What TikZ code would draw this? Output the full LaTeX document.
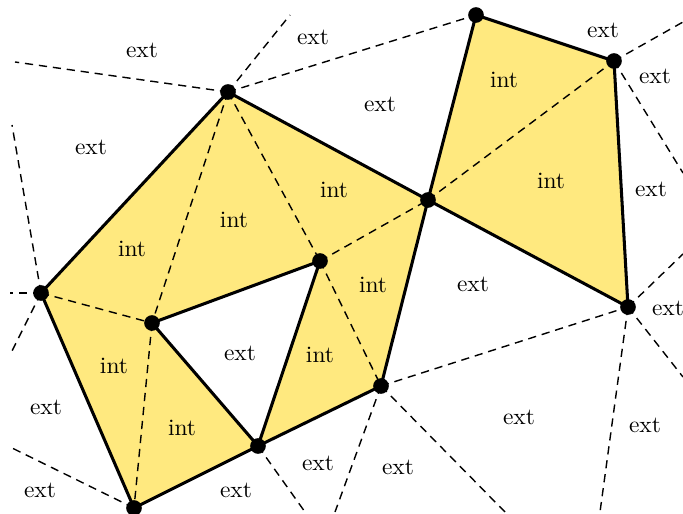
\documentclass[tikz,border=0pt]{standalone}
\usepackage{xcolor}
\usepackage{tikz}
\definecolor{CellYellow}{HTML}{FFE97F}
\tikzset{
  edge/.style={line width=1.3pt,line join=round},
  diag/.style={line width=.6pt,dash pattern=on 3.5pt off 2.5pt},
  vert/.style={circle,fill=black,inner sep=0pt,minimum size=.235cm},
  lbl/.style={inner sep=1pt}
}
\begin{document}
\begin{tikzpicture}[x=0.015cm,y=-0.015cm]
\path[use as bounding box] (0,0) rectangle (683,514);
\coordinate (A) at (228,92);
\coordinate (B) at (41,293);
\coordinate (C) at (152,323);
\coordinate (D) at (134,508);
\coordinate (E) at (258,446);
\coordinate (F) at (320,261);
\coordinate (G) at (381,386);
\coordinate (H) at (428,200);
\coordinate (I) at (476,15);
\coordinate (J) at (614,61);
\coordinate (K) at (628,307);
\coordinate (a1) at (15,62);
\coordinate (a2) at (290,15);
\coordinate (b1) at (12,125);
\coordinate (b2) at (10,293);
\coordinate (b3) at (10,355);
\coordinate (d1) at (10,447);
\coordinate (e1) at (305,512);
\coordinate (g1) at (335,512);
\coordinate (g2) at (505,512);
\coordinate (j1) at (683,22);
\coordinate (j2) at (683,173);
\coordinate (k1) at (683,254);
\coordinate (k2) at (683,377);
\coordinate (k3) at (600,512);
\fill[CellYellow] (A) -- (B) -- (D) -- (E) -- (C) -- (F) -- (E) -- (G) -- (H) -- cycle;
\fill[CellYellow] (H) -- (I) -- (J) -- (K) -- cycle;
\draw[diag] (A) -- (C);
\draw[diag] (C) -- (D);
\draw[diag] (B) -- (C);
\draw[diag] (A) -- (F);
\draw[diag] (F) -- (H);
\draw[diag] (F) -- (G);
\draw[diag] (H) -- (J);
\draw[diag] (A) -- (I);
\draw[diag] (G) -- (K);
\draw[diag] (A) -- (a1);
\draw[diag] (A) -- (a2);
\draw[diag] (B) -- (b1);
\draw[diag] (B) -- (b2);
\draw[diag] (B) -- (b3);
\draw[diag] (D) -- (d1);
\draw[diag] (E) -- (e1);
\draw[diag] (G) -- (g1);
\draw[diag] (G) -- (g2);
\draw[diag] (J) -- (j1);
\draw[diag] (J) -- (j2);
\draw[diag] (K) -- (k1);
\draw[diag] (K) -- (k2);
\draw[diag] (K) -- (k3);
\draw[edge] (A) -- (B) -- (D) -- (E) -- (G) -- (H) -- cycle;
\draw[edge] (C) -- (F) -- (E) -- cycle;
\draw[edge] (H) -- (I) -- (J) -- (K) -- cycle;
\node[vert] (vA) at (A) {};
\node[vert] (vB) at (B) {};
\node[vert] (vC) at (C) {};
\node[vert] (vD) at (D) {};
\node[vert] (vE) at (E) {};
\node[vert] (vF) at (F) {};
\node[vert] (vG) at (G) {};
\node[vert] (vH) at (H) {};
\node[vert] (vI) at (I) {};
\node[vert] (vJ) at (J) {};
\node[vert] (vK) at (K) {};
\node[lbl] (i1) at (504,80) {int};
\node[lbl] (i2) at (551,181) {int};
\node[lbl] (i3) at (334,190) {int};
\node[lbl] (i4) at (234,220) {int};
\node[lbl] (i5) at (132,249) {int};
\node[lbl] (i6) at (373,285) {int};
\node[lbl] (i7) at (320,355) {int};
\node[lbl] (i8) at (114,366) {int};
\node[lbl] (i9) at (182,428) {int};
\node[lbl] (x1) at (142,50) {ext};
\node[lbl] (x2) at (313,37) {ext};
\node[lbl] (x3) at (91,147) {ext};
\node[lbl] (x4) at (380,104) {ext};
\node[lbl] (x5) at (603,30) {ext};
\node[lbl] (x6) at (655,76) {ext};
\node[lbl] (x7) at (651,189) {ext};
\node[lbl] (x8) at (473,284) {ext};
\node[lbl] (x9) at (668,308) {ext};
\node[lbl] (x10) at (240,353) {ext};
\node[lbl] (x11) at (46,407) {ext};
\node[lbl] (x12) at (519,417) {ext};
\node[lbl] (x13) at (645,425) {ext};
\node[lbl] (x14) at (40,490) {ext};
\node[lbl] (x15) at (236,490) {ext};
\node[lbl] (x16) at (318,463) {ext};
\node[lbl] (x17) at (398,467) {ext};
\end{tikzpicture}
\end{document}
